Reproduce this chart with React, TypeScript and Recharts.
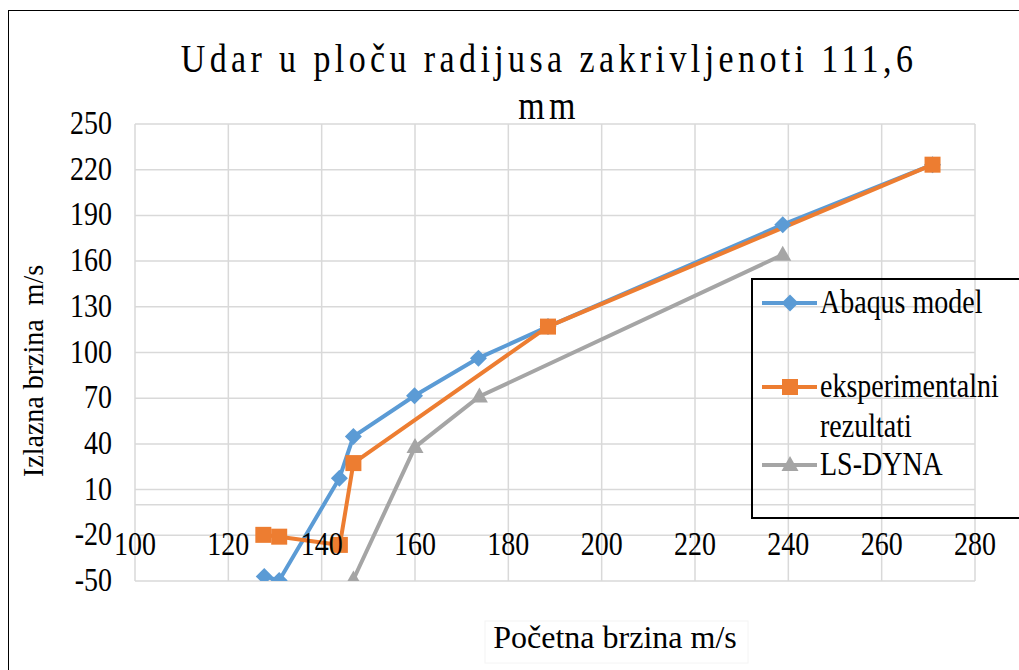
import { CartesianGrid, Line, LineChart, ReferenceLine, XAxis, YAxis } from "recharts"

const xTicks = [100, 120, 140, 160, 180, 200, 220, 240, 260, 280]
const yTicks = [-50, -20, 10, 40, 70, 100, 130, 160, 190, 220, 250]

const abaqusX = [127.7, 130.9, 143.8, 146.8, 159.9, 173.6, 188.5, 238.8, 270.9]
const abaqusY = [-47, -49.6, 17.5, 44.8, 71.6, 96.3, 117, 183.9, 223.3]

const eksperimentX = [127.5, 130.9, 143.9, 146.8, 188.5, 270.9]
const eksperimentY = [-19.7, -20.9, -26.3, 27.4, 117, 223.3]

const dynaX = [146.8, 160, 173.8, 238.8]
const dynaY = [-49, 37.9, 71.1, 164.2]

const zip = (xs: number[], ys: number[]) => xs.map((x, i) => ({ x, y: ys[i] }))

const BLUE = "#5B9BD5"
const ORANGE = "#ED7D31"
const GRAY = "#A5A5A5"
const FONT = '"Liberation Serif", "Times New Roman", serif'
const STRETCH = 1.18

const Diamond = (props: any) => {
  const { cx, cy } = props
  if (cx == null || cy == null) return <g />
  const r = 8.5
  return <polygon points={`${cx},${cy - r} ${cx + r},${cy} ${cx},${cy + r} ${cx - r},${cy}`} fill={BLUE} />
}

const Square = (props: any) => {
  const { cx, cy } = props
  if (cx == null || cy == null) return <g />
  return <rect x={cx - 8} y={cy - 8} width={16} height={16} fill={ORANGE} />
}

const Triangle = (props: any) => {
  const { cx, cy } = props
  if (cx == null || cy == null) return <g />
  return <polygon points={`${cx},${cy - 9} ${cx + 8.5},${cy + 6} ${cx - 8.5},${cy + 6}`} fill={GRAY} />
}

const XTick = ({ x, y, payload }: any) => (
  <text transform={`translate(${x},${y - 26}) scale(1,${STRETCH})`} textAnchor="middle" fontFamily={FONT} fontSize={28} fill="#000">
    {payload.value}
  </text>
)

const YTick = ({ x, y, payload }: any) => (
  <text transform={`translate(${x - 23},${y + 10}) scale(1,${STRETCH})`} textAnchor="end" fontFamily={FONT} fontSize={28} fill="#000">
    {payload.value}
  </text>
)

const legendItems = [
  { lines: ["Abaqus model"], color: BLUE, Marker: Diamond, y: 24 },
  { lines: ["eksperimentalni", "rezultati"], color: ORANGE, Marker: Square, y: 108 },
  { lines: ["LS-DYNA"], color: GRAY, Marker: Triangle, y: 186 },
]

export default function App() {
  return (
    <div style={{ position: "absolute", left: 0, top: 0, width: 1019, height: 670, overflow: "hidden", background: "#fff" }}>
      <div style={{ position: "absolute", left: 8, top: 10, width: 1100, height: 700, border: "1.5px solid #000", boxSizing: "border-box" }} />
      <LineChart width={1019} height={670} margin={{ top: 124, right: 44, bottom: 59, left: 75 }}>
        <CartesianGrid stroke="#D9D9D9" strokeWidth={1.5} />
        <XAxis
          type="number"
          dataKey="x"
          domain={[100, 280]}
          ticks={xTicks}
          interval={0}
          tick={<XTick />}
          tickLine={false}
          axisLine={false}
          tickSize={0}
          tickMargin={0}
          height={30}
          allowDataOverflow
        />
        <YAxis
          type="number"
          dataKey="y"
          domain={[-50, 250]}
          ticks={yTicks}
          interval={0}
          tick={<YTick />}
          tickLine={false}
          axisLine={false}
          tickSize={0}
          tickMargin={0}
          width={60}
          allowDataOverflow
        />
        <ReferenceLine y={0} stroke="#D9D9D9" strokeWidth={1.5} />
        <Line data={zip(abaqusX, abaqusY)} dataKey="y" name="Abaqus model" stroke={BLUE} strokeWidth={4} dot={<Diamond />} isAnimationActive={false} />
        <Line data={zip(eksperimentX, eksperimentY)} dataKey="y" name="eksperimentalni rezultati" stroke={ORANGE} strokeWidth={4} dot={<Square />} isAnimationActive={false} />
        <Line data={zip(dynaX, dynaY)} dataKey="y" name="LS-DYNA" stroke={GRAY} strokeWidth={4} dot={<Triangle />} isAnimationActive={false} />
      </LineChart>
      <svg width={1019} height={670} style={{ position: "absolute", left: 0, top: 0, pointerEvents: "none" }}>
        <text transform={`translate(549,72) scale(1,${STRETCH})`} textAnchor="middle" fontFamily={FONT} fontSize={34} letterSpacing={4.4} fill="#000">
          Udar u ploču radijusa zakrivljenoti 111,6
        </text>
        <text transform={`translate(549,119) scale(1,${STRETCH})`} textAnchor="middle" fontFamily={FONT} fontSize={34} letterSpacing={4.4} fill="#000">
          mm
        </text>
        <text transform="translate(43,371) rotate(-90) scale(1,1.08)" textAnchor="middle" fontFamily={FONT} fontSize={28} fill="#000" style={{ whiteSpace: "pre" }}>
          {"Izlazna brzina  m/s"}
        </text>
        <rect x={485} y={621} width={263} height={42} fill="none" stroke="#F4F4F4" strokeWidth={1} />
        <text x={615} y={648} textAnchor="middle" fontFamily={FONT} fontSize={32} fill="#000">
          Početna brzina m/s
        </text>
        <g transform="translate(752,279)">
          <rect x={0} y={0} width={300} height={239} fill="none" stroke="#000" strokeWidth={2} />
          {legendItems.map((item) => (
            <g key={item.lines[0]}>
              <line x1={10} x2={65} y1={item.y} y2={item.y} stroke={item.color} strokeWidth={4} />
              <item.Marker cx={38} cy={item.y} />
              {item.lines.map((t, i) => (
                <text key={t} transform={`translate(68,${item.y + 10 + i * 40}) scale(1,${STRETCH})`} fontFamily={FONT} fontSize={28} fill="#000">
                  {t}
                </text>
              ))}
            </g>
          ))}
        </g>
      </svg>
    </div>
  )
}
